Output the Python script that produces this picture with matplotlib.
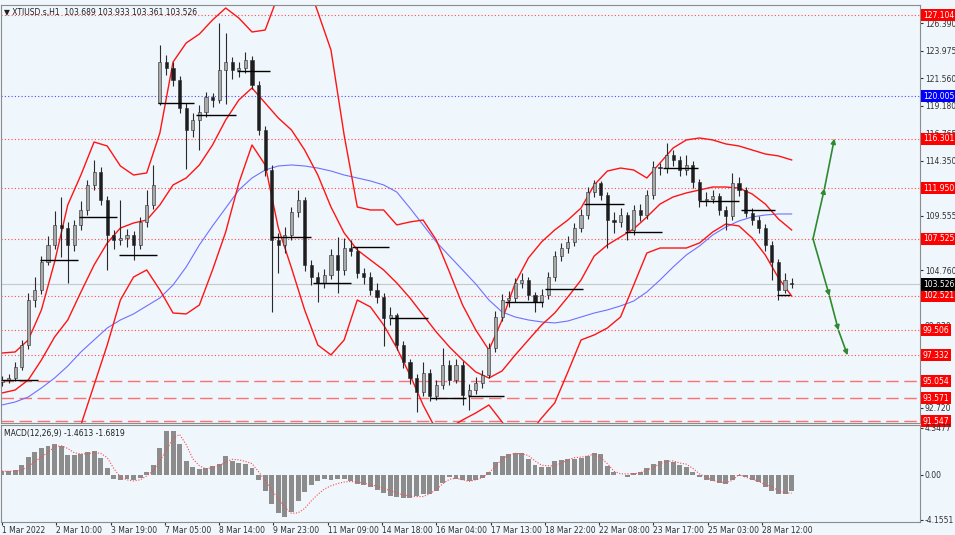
import numpy as np
import matplotlib.pyplot as plt
from matplotlib.transforms import blended_transform_factory

plt.rcParams['font.family'] = ['Liberation Sans Narrow', 'DejaVu Sans Condensed', 'DejaVu Sans']

# price bars, one every 4 H1 bars
opens = [95.00, 95.17, 95.34, 96.31, 98.23, 102.17, 103.05, 105.50, 106.99, 108.74,
         108.47, 106.99, 108.74, 110.05, 112.24, 113.37, 110.92, 107.86, 107.42, 107.60,
         107.86, 106.99, 109.00, 110.49, 119.40, 123.00, 122.48, 121.43, 118.98, 117.05,
         117.93, 118.63, 119.94, 119.70, 122.30, 123.00, 122.30, 122.48, 123.18, 120.99,
         117.05, 113.55, 107.42, 106.99, 107.86, 109.87, 110.92, 105.23, 104.18, 103.66,
         104.36, 106.11, 104.80, 106.72, 106.50, 104.53, 104.18, 103.05, 102.43, 100.60,
         100.85, 98.23, 96.74, 95.34, 94.12, 95.78, 93.77, 94.73, 96.48, 95.17,
         96.48, 93.86, 94.29, 94.91, 95.61, 97.97, 100.68, 102.17, 102.35, 103.66,
         103.92, 102.61, 102.00, 102.61, 104.18, 106.02, 106.72, 107.25, 108.47, 109.61,
         111.62, 112.41, 111.36, 109.17, 109.00, 109.61, 108.30, 110.05, 109.61, 111.36,
         113.81, 113.70, 114.86, 114.43, 113.55, 113.99, 112.50, 110.92, 111.01, 111.27,
         110.05, 109.52, 112.41, 111.80, 109.79, 109.17, 108.47, 106.99, 105.50, 103.05,
         103.689]
highs = [95.5, 95.7, 96.7, 98.7, 102.8, 104.2, 106.0, 107.8, 110.0, 111.2,
         109.0, 109.2, 110.8, 112.7, 114.4, 113.8, 111.3, 108.3, 110.9, 108.4,
         108.2, 109.4, 111.8, 114.0, 124.5, 123.6, 123.0, 121.8, 119.4, 118.5,
         119.2, 120.4, 120.3, 126.4, 125.5, 123.4, 123.0, 123.9, 123.5, 121.3,
         117.4, 114.0, 108.0, 108.6, 110.3, 111.8, 111.2, 105.7, 104.6, 104.9,
         106.6, 107.7, 107.6, 107.4, 106.8, 105.0, 104.6, 103.7, 102.8, 101.6,
         101.0, 98.6, 97.0, 95.7, 96.7, 96.1, 95.2, 98.0, 96.9, 97.0,
         96.8, 94.8, 95.4, 96.0, 98.4, 101.2, 102.7, 103.0, 104.1, 104.5,
         104.2, 102.9, 103.1, 104.6, 106.5, 107.2, 107.8, 108.9, 110.1, 112.1,
         112.7, 112.6, 111.6, 109.9, 110.2, 109.9, 110.5, 110.6, 111.8, 114.3,
         114.2, 115.9, 115.3, 114.8, 114.9, 114.3, 112.8, 111.6, 111.8, 111.5,
         110.4, 113.3, 112.9, 112.1, 110.2, 109.5, 108.8, 107.3, 105.8, 104.5,
         104.1]
lows = [94.6, 94.9, 95.1, 96.0, 97.9, 101.6, 102.7, 105.2, 106.6, 105.9,
        103.7, 106.5, 108.3, 109.6, 111.8, 110.5, 104.8, 106.6, 107.0, 106.8,
        105.7, 106.6, 108.6, 110.1, 119.2, 121.9, 120.9, 118.5, 113.6, 116.4,
        115.3, 118.2, 119.1, 119.4, 119.3, 121.5, 121.7, 122.0, 120.6, 116.6,
        113.0, 101.1, 104.5, 106.3, 107.4, 109.4, 104.7, 103.5, 102.0, 103.2,
        104.0, 102.8, 104.4, 106.0, 104.1, 103.6, 102.6, 101.9, 98.1, 100.0,
        97.8, 96.2, 94.8, 92.4, 93.8, 93.3, 93.4, 94.4, 94.7, 94.9,
        93.0, 92.5, 93.9, 94.5, 95.3, 97.6, 100.3, 101.6, 102.0, 103.2,
        102.2, 101.1, 101.6, 102.3, 103.8, 105.6, 106.3, 106.9, 108.1, 109.3,
        111.2, 110.9, 106.7, 108.0, 108.6, 107.4, 107.9, 109.1, 109.3, 111.0,
        113.1, 113.3, 113.9, 113.0, 113.1, 112.0, 110.3, 110.4, 110.7, 109.6,
        108.3, 109.2, 111.3, 109.4, 108.7, 108.0, 106.5, 103.9, 102.2, 102.8,
        103.2]
closes = [95.17, 95.34, 96.31, 98.23, 102.17, 103.05, 105.50, 106.99, 108.74, 108.47,
          106.99, 108.74, 110.05, 112.24, 113.37, 110.92, 107.86, 107.42, 107.60, 107.86,
          106.99, 109.00, 110.49, 112.24, 123.00, 122.48, 121.43, 118.98, 117.05, 117.93,
          118.63, 119.94, 119.70, 122.30, 123.00, 122.30, 122.48, 123.18, 120.99, 117.05,
          113.55, 107.42, 106.99, 107.86, 109.87, 110.92, 105.23, 104.18, 103.66, 104.36,
          106.11, 104.80, 106.72, 106.50, 104.53, 104.18, 103.05, 102.43, 100.60, 100.85,
          98.23, 96.74, 95.34, 94.12, 95.78, 93.77, 94.73, 96.48, 95.17, 96.48,
          93.86, 94.29, 94.91, 95.61, 97.97, 100.68, 102.17, 102.35, 103.66, 103.92,
          102.61, 102.00, 102.61, 104.18, 106.02, 106.72, 107.25, 108.47, 109.61, 111.62,
          112.41, 111.36, 109.17, 109.00, 109.61, 108.30, 110.05, 109.61, 111.36, 113.81,
          113.70, 114.86, 114.43, 113.55, 113.99, 112.50, 110.92, 111.01, 111.27, 110.05,
          109.52, 112.41, 111.80, 109.79, 109.17, 108.47, 106.99, 105.50, 103.05, 103.92,
          103.526]

# indicator lines, one point every 8 H1 bars
band_upper = [97.53, 97.62, 98.67, 101.30, 105.50, 110.49, 113.11, 116.00, 115.65, 113.90,
              113.11, 113.29, 116.79, 123.00, 124.67, 125.45, 126.68, 127.73, 126.85, 125.63,
              125.80, 128.87, 131.06, 130.62, 127.38, 124.05, 116.61, 110.31, 110.05, 110.05,
              108.74, 109.00, 109.17, 107.42, 104.62, 101.73, 99.55, 97.79, 100.42, 103.66,
              105.85, 107.25, 108.30, 109.17, 110.22, 112.24, 113.46, 113.72, 113.55, 112.85,
              114.16, 115.48, 116.18, 116.35, 116.18, 115.83, 115.65, 115.30, 114.95, 114.78,
              114.43]
band_mid = [94.03, 94.29, 95.17, 96.92, 98.93, 100.42, 102.87, 105.23, 107.16, 108.47,
            108.91, 109.17, 110.49, 112.24, 112.85, 113.99, 115.74, 117.93, 119.68, 120.73,
            119.41, 118.10, 117.05, 115.30, 113.11, 110.31, 108.04, 106.55, 105.67, 104.80,
            103.66, 102.35, 100.86, 99.37, 98.06, 96.92, 95.87, 95.34, 95.96, 97.36,
            98.67, 99.98, 101.03, 102.43, 103.92, 106.02, 106.99, 107.69, 108.39, 109.44,
            110.57, 111.19, 111.54, 111.80, 112.06, 112.06, 111.97, 111.45, 110.57, 109.26,
            108.30]
band_lower = [87.29, 86.42, 86.42, 87.29, 88.60, 90.09, 91.23, 94.73, 98.23, 102.17,
              104.18, 104.80, 103.05, 101.03, 100.95, 101.73, 104.80, 108.12, 112.41, 115.74,
              113.99, 108.47, 104.97, 101.30, 98.23, 97.36, 98.67, 102.17, 101.56, 99.98,
              97.97, 95.61, 92.98, 90.79, 90.97, 91.67, 92.28, 92.98, 91.49, 89.92,
              90.35, 91.84, 93.16, 95.87, 98.67, 99.11, 99.72, 100.68, 103.48, 106.28,
              106.72, 106.72, 106.72, 107.16, 108.12, 108.82, 108.65, 107.60, 106.11, 104.10,
              102.52]
ma_blue = [92.98, 93.24, 93.68, 94.47, 95.34, 96.39, 97.62, 98.67, 99.72, 100.42,
           100.95, 101.65, 102.35, 103.48, 105.06, 106.99, 108.65, 110.22, 111.80, 112.85,
           113.55, 113.90, 113.99, 113.90, 113.72, 113.46, 113.11, 112.85, 112.59, 112.24,
           111.62, 110.22, 108.74, 107.25, 106.02, 104.80, 103.57, 102.17, 101.12, 100.68,
           100.42, 100.25, 100.16, 100.33, 100.68, 101.03, 101.30, 101.65, 102.08, 102.87,
           103.92, 105.06, 106.11, 106.90, 107.86, 108.56, 109.09, 109.44, 109.61, 109.70,
           109.70]

# MACD histogram and signal, same grid as the price bars
macd = [0.4, 0.4, 0.45, 0.9, 1.7, 2.15, 2.45, 2.65, 2.9, 2.65,
        1.85, 1.8, 1.95, 2.1, 2.25, 1.55, 0.6, -0.35, -0.5, -0.4,
        -0.5, -0.3, 0.3, 0.9, 2.5, 4.1, 4.05, 2.9, 1.3, 0.7,
        0.55, 0.65, 0.8, 1.0, 1.75, 1.3, 1.15, 1.05, 0.6, -0.45,
        -1.5, -2.7, -3.55, -3.9, -3.45, -2.45, -1.6, -0.95, -0.6, -0.4,
        -0.5, -0.35, -0.35, -0.6, -0.85, -0.95, -1.1, -1.35, -1.65, -1.9,
        -2.05, -2.15, -2.1, -1.95, -1.8, -1.75, -1.5, -0.75, -0.2, -0.35,
        -0.5, -0.6, -0.5, -0.3, 0.3, 1.2, 1.75, 1.95, 2.05, 2.0,
        1.5, 0.9, 0.7, 0.75, 1.25, 1.4, 1.45, 1.5, 1.6, 1.75,
        2.0, 1.9, 0.8, 0.3, 0.0, -0.15, 0.15, 0.25, 0.6, 1.0,
        1.3, 1.35, 1.2, 0.9, 0.75, 0.3, -0.2, -0.45, -0.6, -0.75,
        -0.85, -0.5, -0.05, -0.2, -0.45, -0.65, -1.15, -1.45, -1.8, -1.75,
        -1.46]
signal = [0.35, 0.35, 0.35, 0.45, 0.8, 1.25, 1.65, 2.1, 2.6, 2.7,
          2.45, 2.05, 1.95, 1.95, 2.05, 2.0, 1.6, 0.6, -0.2, -0.45,
          -0.55, -0.45, -0.1, 0.4, 1.3, 2.3, 3.4, 3.75, 2.8, 1.5,
          0.85, 0.55, 0.7, 0.85, 1.2, 1.45, 1.4, 1.25, 1.05, 0.3,
          -0.5, -1.4, -2.2, -3.0, -3.55, -3.5, -3.1, -2.4, -1.8, -1.3,
          -1.0, -0.8, -0.65, -0.6, -0.65, -0.75, -0.9, -1.05, -1.25, -1.45,
          -1.65, -1.85, -1.95, -2.0, -2.0, -1.75, -1.35, -0.8, -0.4, -0.3,
          -0.45, -0.6, -0.45, -0.25, 0.2, 0.8, 1.5, 1.8, 2.0, 1.95,
          1.8, 1.3, 0.9, 0.85, 0.85, 1.1, 1.4, 1.6, 1.65, 1.75,
          1.95, 1.6, 1.05, 0.35, 0.1, 0.1, 0.1, 0.2, 0.45, 0.7,
          1.05, 1.25, 1.3, 1.1, 1.0, 0.6, 0.1, -0.2, -0.5, -0.65,
          -0.7, -0.5, 0.05, -0.2, -0.4, -0.6, -0.9, -1.1, -1.45, -1.65,
          -1.68]

# daily open segments (bar index of the day start, open price)
day_start = [0, 23, 47, 71, 95, 118, 143, 164, 189, 213, 236, 260, 283, 306, 330, 354, 379, 402, 424, 449, 471]
day_open = [95.17, 105.67, 109.44, 106.11, 119.41, 118.36, 122.22, 107.68, 103.66, 106.81, 100.60,
            93.59, 93.76, 102.00, 103.13, 110.57, 108.12, 113.72, 110.84, 110.05, 102.61]

# horizontal levels
levels_dotted = [127.104, 116.301, 111.950, 107.525, 102.521, 99.506, 97.332]
levels_dashed = [95.054, 93.571, 91.547]
level_blue = 120.005
last_price = 103.526

# scenario arrows (bar index, price)
arrow_up_t = [493, 500, 506]
arrow_up_p = [107.525, 111.950, 116.301]
arrow_dn_t = [493, 503, 508.5, 514]
arrow_dn_p = [107.525, 102.521, 99.506, 97.332]

price_ticks = [126.390, 123.975, 121.560, 119.180, 116.765, 114.350, 109.555,
               104.760, 99.930, 97.550, 92.720]
x_labels = ['1 Mar 2022', '2 Mar 10:00', '3 Mar 19:00', '7 Mar 05:00', '8 Mar 14:00',
            '9 Mar 23:00', '11 Mar 09:00', '14 Mar 18:00', '16 Mar 04:00', '17 Mar 13:00',
            '18 Mar 22:00', '22 Mar 08:00', '23 Mar 17:00', '25 Mar 03:00', '28 Mar 12:00']

bg = '#eff6fc'
fs = 5.5
fig = plt.figure(figsize=(9.55, 5.35), dpi=100)
fig.patch.set_facecolor(bg)
ax = fig.add_axes([0.001, 0.2093, 0.9623, 0.7813])
ax2 = fig.add_axes([0.001, 0.0243, 0.9623, 0.1813], sharex=ax)
for a in (ax, ax2):
    a.set_facecolor(bg)
    for s in a.spines.values():
        s.set_color('#8c8c8c')
        s.set_linewidth(0.8)

t = 4 * np.arange(len(closes))
tk = 8 * np.arange(len(band_mid))
o = np.array(opens); c = np.array(closes)

# levels first, so price is drawn over them
for v in levels_dotted:
    ax.axhline(v, color='#ff4d4d', ls=(0, (1, 2)), lw=0.8, zorder=1)
for v in levels_dashed:
    ax.axhline(v, color='#ff7070', ls=(0, (9, 4)), lw=1.0, zorder=1)
ax.axhline(level_blue, color='#4a4aff', ls=(0, (1, 2)), lw=0.8, zorder=1)
ax.axhline(last_price, color='#c8c8c8', lw=0.8, zorder=1)

# bands and moving average
ax.plot(tk, ma_blue, color='#7070ff', lw=0.8, zorder=2)
for band in (band_upper, band_mid, band_lower):
    ax.plot(tk, band, color='#ff1414', lw=1.0, zorder=2)

# candles
ax.vlines(t, lows, highs, color='#2a2a2a', lw=0.8, zorder=3)
up = c >= o
ax.bar(t, np.maximum(np.abs(c - o), 0.08), bottom=np.minimum(o, c), width=1.9,
       color=np.where(up, '#a8a8a8', '#1e1e1e'), edgecolor='#2a2a2a', lw=0.4, zorder=3)

# daily opens
day_end = day_start[1:] + [480]
ax.hlines(day_open, day_start, [e - 1 for e in day_end], color='black', lw=1.0, zorder=4)

# arrows
for tt, pp in ((arrow_up_t, arrow_up_p), (arrow_dn_t, arrow_dn_p)):
    for i in range(len(tt) - 1):
        ax.annotate('', xy=(tt[i + 1], pp[i + 1]), xytext=(tt[i], pp[i]),
                    arrowprops=dict(arrowstyle='-|>', color='#2f8a2f', lw=1.2,
                                    mutation_scale=7, shrinkA=0, shrinkB=0))

ax.set_xlim(-0.6, 558)
ax.set_ylim(91.40, 127.99)
ax.yaxis.tick_right()
ax.set_yticks(price_ticks)
ax.set_yticklabels(['%.3f' % v for v in price_ticks])
ax.tick_params(axis='y', labelsize=fs, length=2, pad=1.5, colors='#303030')
ax.tick_params(axis='x', length=0, labelbottom=False)

# price labels on the right axis
tr = blended_transform_factory(ax.transAxes, ax.transData)
def tag(v, fc):
    ax.text(1.003, v, '%.3f' % v, transform=tr, va='center', ha='left', fontsize=fs,
            color='white', clip_on=False, zorder=10,
            bbox=dict(boxstyle='square,pad=0.2', fc=fc, ec='none'))
for v in levels_dotted + levels_dashed:
    tag(v, '#ff0000')
tag(level_blue, '#0000ff')
tag(last_price, '#000000')

ax.text(0.003, 0.993, '\u25bc XTIUSD.s,H1  103.689 103.933 103.361 103.526',
        transform=ax.transAxes, va='top', ha='left', fontsize=fs, color='#202020')

# MACD
ax2.bar(t, macd, width=3.0, color='#8c8c8c', zorder=2)
ax2.plot(t, signal, color='#ff4a4a', ls=(0, (1, 1.5)), lw=0.8, zorder=3)
ax2.set_ylim(-4.35, 4.62)
ax2.yaxis.tick_right()
ax2.set_yticks([4.3477, 0.0, -4.1551])
ax2.set_yticklabels(['4.3477', '0.00', '-4.1551'])
ax2.tick_params(axis='y', labelsize=fs, length=2, pad=1.5, colors='#303030')
ax2.set_xticks(33 * np.arange(len(x_labels)))
ax2.set_xticklabels(x_labels, ha='left')
ax2.tick_params(axis='x', labelsize=fs, length=2, pad=1.0, colors='#303030')
ax2.text(0.003, 0.96, 'MACD(12,26,9) -1.4613 -1.6819', transform=ax2.transAxes,
         va='top', ha='left', fontsize=fs, color='#202020')

fig.savefig('out.png', dpi=100, facecolor=bg)
